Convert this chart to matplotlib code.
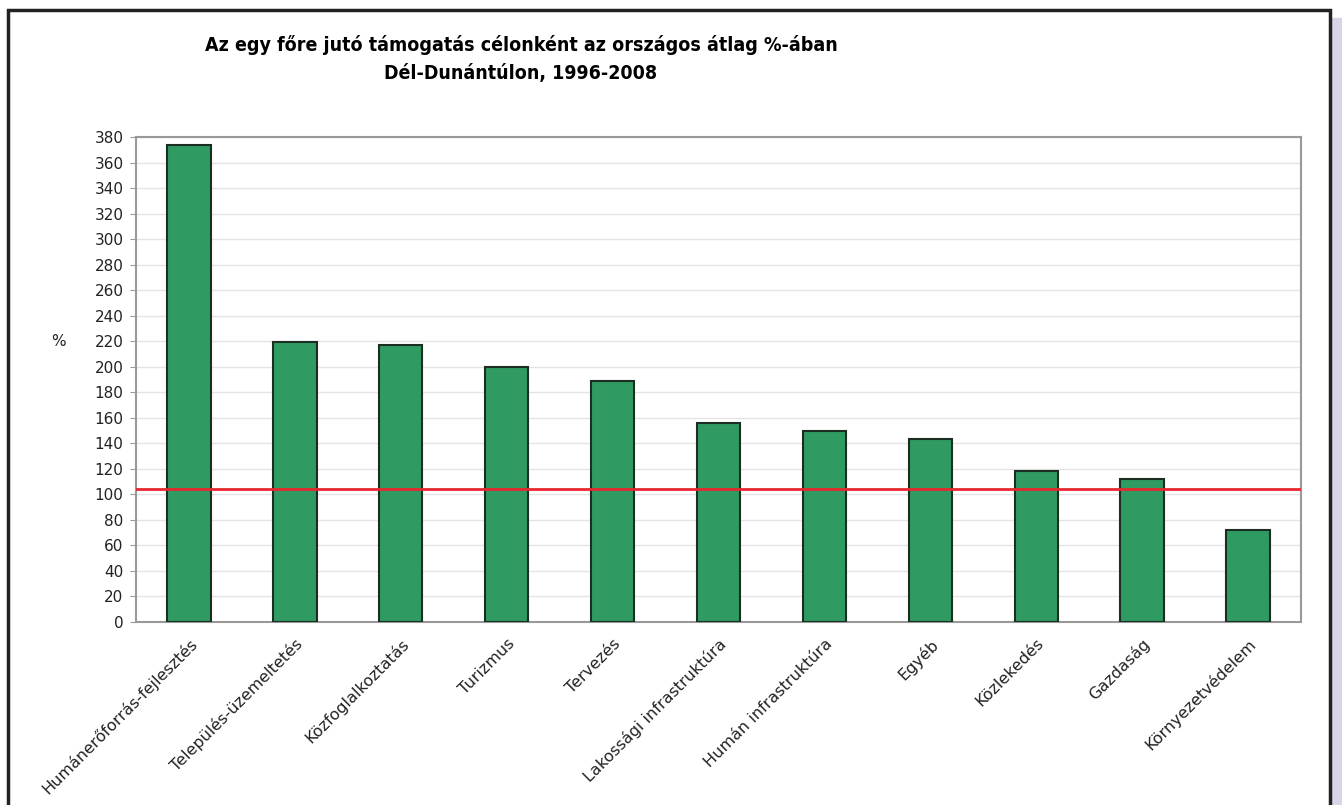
import matplotlib
matplotlib.use("Agg")
import matplotlib.pyplot as plt
from matplotlib.patches import Rectangle

# data
categories = ["Humánerőforrás-fejlesztés", "Település-üzemeltetés", "Közfoglalkoztatás",
              "Turizmus", "Tervezés", "Lakossági infrastruktúra", "Humán infrastruktúra",
              "Egyéb", "Közlekedés", "Gazdaság", "Környezetvédelem"]
values = [374, 219, 217, 200, 189, 156, 150, 143, 118, 112, 72]
average_line = 104
yticks = list(range(0, 381, 20))

title = "Az egy főre jutó támogatás célonként az országos átlag %-ában\nDél-Dunántúlon, 1996-2008"

fig = plt.figure(figsize=(13.42, 8.05), dpi=100)

# outer frame and the lavender strip on the right
fig.patches.append(Rectangle((1332 / 1342, 0), 10 / 1342, 1 - 18 / 805,
                             transform=fig.transFigure, color="#d6d6e8", zorder=0))
fig.patches.append(Rectangle((8 / 1342, -0.01), 1322 / 1342, 1.01 - 10 / 805,
                             transform=fig.transFigure, fill=False,
                             edgecolor="#222222", linewidth=2.5, zorder=1))

ax = fig.add_axes([136 / 1342, 183 / 805, 1165 / 1342, 485 / 805])
x = range(len(categories))
ax.bar(x, values, width=0.41, color="#2f9a62", edgecolor="#1c2e22", linewidth=1.5, zorder=3)
ax.axhline(average_line, color="#e8262e", linewidth=2, zorder=4)

ax.set_xlim(-0.5, len(categories) - 0.5)
ax.set_ylim(0, 380)
ax.set_yticks(yticks)
ax.tick_params(axis="y", labelsize=11, colors="#222222", length=4, width=0.8,
               color="#999999", pad=5)
ax.set_xticks(list(x))
ax.set_xticklabels(categories, rotation=45, ha="right", rotation_mode="anchor",
                   fontsize=11.5, color="#222222")
ax.tick_params(axis="x", length=0, pad=10)
ax.yaxis.grid(True, color="#e4e4e4", linewidth=1, zorder=0)
for s in ax.spines.values():
    s.set_color("#999999")
    s.set_linewidth(1.5)

fig.text(58 / 1342, 1 - 342 / 805, "%", fontsize=11, ha="center", va="center", color="#222222")
fig.text(521 / 1342, 1 - 59 / 805, title, fontsize=14, fontweight="bold",
         fontstretch="condensed", ha="center", va="center", linespacing=1.55)

fig.savefig("out.png", dpi=100)
